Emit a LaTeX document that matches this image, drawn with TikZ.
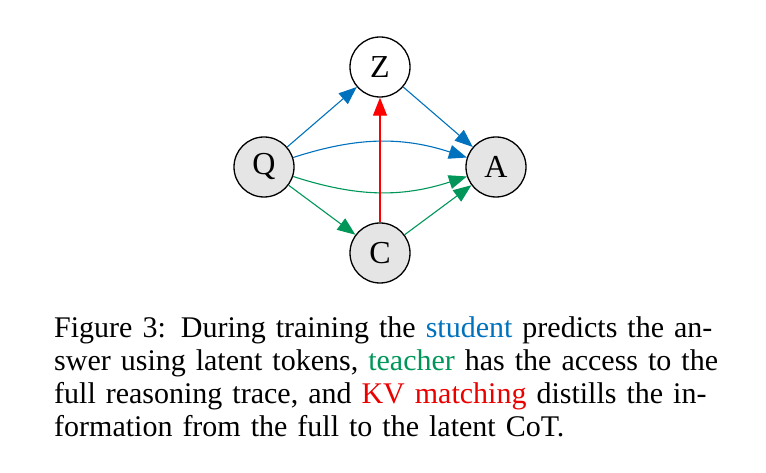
\documentclass[tikz,border=0pt]{standalone}
\usepackage{fontspec}
\setmainfont{Liberation Serif}
\usetikzlibrary{arrows.meta}
\definecolor{stublue}{RGB}{0,114,189}
\definecolor{teagreen}{RGB}{0,150,90}
\definecolor{kvred}{RGB}{235,0,0}
\begin{document}
\begin{tikzpicture}[
    x=1pt, y=1pt,
    var/.style={circle,draw,line width=1.3pt,minimum size=60pt,inner sep=0pt,
        fill=black!10,font=\fontsize{32}{36}\selectfont},
    latent/.style={var,fill=white},
    arrow/.style={-{Triangle[length=18pt,width=14pt]},line width=1.1pt},
    student/.style={arrow,draw=stublue},
    teacher/.style={arrow,draw=teagreen},
    kv/.style={arrow,draw=red},
    caption/.style={anchor=north west,inner sep=0pt,text width=649pt,align=left,
        font=\fontsize{30}{33}\selectfont}
]
\path[use as bounding box] (0,0) rectangle (766,473);

\node[var] (q) at (264,306) {Q};
\node[var] (a) at (496,306) {A};
\node[latent] (z) at (380,406) {Z};
\node[var] (c) at (380,220) {C};

\draw[student] (q) -- (z);
\draw[student] (z) -- (a);
\draw[student] (q) to[bend left=18] (a);
\draw[teacher] (q) to[bend right=18] (a);
\draw[teacher] (q) -- (c);
\draw[teacher] (c) -- (a);
\draw[kv] (c) -- (z);

\node[caption] (cap) at (54,157) {%
\makebox[\linewidth][s]{Figure 3: During training the \textcolor{stublue}{student} predicts the an-}\\
\makebox[\linewidth][s]{swer using latent tokens, \textcolor{teagreen}{teacher} has the access to the}\\
\makebox[\linewidth][s]{full reasoning trace, and \textcolor{kvred}{KV matching} distills the in-}\\
formation from the full to the latent CoT.};
\end{tikzpicture}
\end{document}
